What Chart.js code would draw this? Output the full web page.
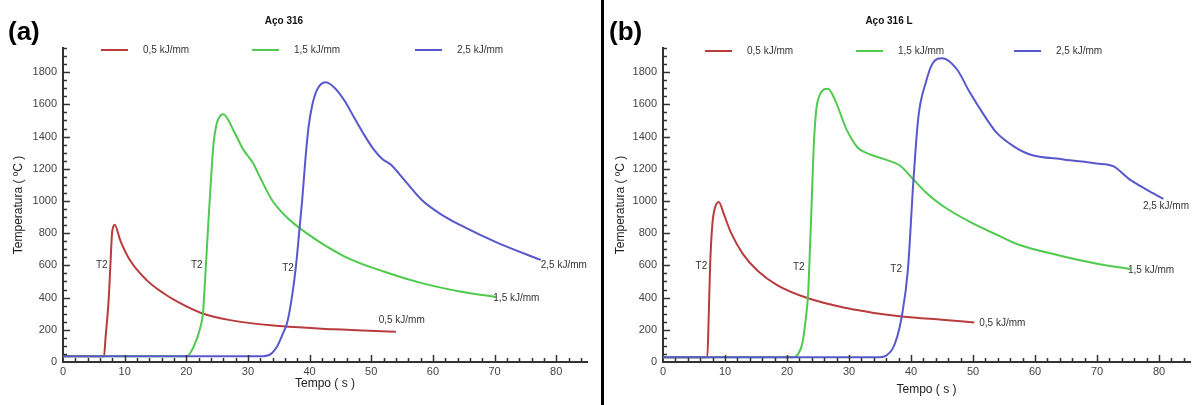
<!DOCTYPE html>
<html>
<head>
<meta charset="utf-8">
<script src="https://cdn.jsdelivr.net/npm/chart.js@4/dist/chart.umd.min.js"></script>
<style>
    body { margin: 0; width: 1195px; height: 405px; position: relative; overflow: hidden; background: #fff; font-family: "Liberation Sans", Arial, sans-serif; }
    canvas { position: absolute; top: 0; }
    #grafico-a { left: 0; }
    #grafico-b { left: 605px; }
    .divisor { position: absolute; left: 601px; top: 0; width: 3px; height: 405px; background: #000; }
    .letra { position: absolute; top: 16px; font: bold 26px "Liberation Sans", Arial, sans-serif; color: #000; }
    .titulo { position: absolute; top: 15px; font: bold 10px "Liberation Sans", Arial, sans-serif; color: #111; transform: translateX(-50%); white-space: nowrap; }
    .legenda { position: absolute; font: 10px "Liberation Sans", Arial, sans-serif; color: #333; white-space: nowrap; }
    .legenda span { display: inline-block; width: 27px; height: 2px; vertical-align: middle; margin-right: 15px; }
</style>
</head>
<body>
<canvas id="grafico-a" width="600" height="405"></canvas>
<canvas id="grafico-b" width="590" height="405"></canvas>
<div class="divisor"></div>
<div class="letra" style="left:8px">(a)</div>
<div class="letra" style="left:609px">(b)</div>
<div class="titulo" style="left:284px">Aço 316</div>
<div class="titulo" style="left:889px">Aço 316 L</div>
<div id="legendas"></div>

<script>
// Energias de soldagem (séries)
const energias = ["0,5 kJ/mm", "1,5 kJ/mm", "2,5 kJ/mm"];
const cores = ["#b83c3e", "#4fca4f", "#5858cc"];

// Aço 316: tempo (s) e temperatura (ºC)
const tempoA05 = [0, 6.65, 6.9, 7.4, 7.7, 7.95, 8.15, 8.38, 9.3, 10.9, 13.6, 16.3, 19.0, 22.5, 27.1, 35.2, 44, 54];
const tempA05  = [35, 35, 150, 383, 612, 797, 840, 853, 754, 630, 507, 427, 365, 303, 260, 223, 203, 188];
const tempoA15 = [0, 20.1, 21.2, 22.3, 22.7, 23.2, 23.6, 24.0, 24.4, 24.9, 25.5, 26.0, 27.7, 29.2, 30.8, 32.0, 33.9, 36.0, 39.5, 45.7, 52.0, 58.2, 64.4, 70.3];
const tempA15  = [35, 35, 95, 218, 303, 612, 880, 1130, 1350, 1476, 1528, 1538, 1435, 1322, 1237, 1144, 1006, 910, 800, 655, 562, 490, 438, 403];
const tempoA25 = [0, 32, 33.5, 34.7, 35.6, 36.4, 37.2, 37.8, 38.3, 38.8, 39.3, 39.8, 40.4, 41.2, 42.6, 44, 45.7, 47.2, 48.8, 50.4, 51.8, 53.2, 54.5, 55.7, 58.2, 61, 64.4, 70.6, 77.5];
const tempA25  = [35, 35, 45, 95, 170, 250, 420, 600, 800, 1006, 1250, 1450, 1590, 1690, 1738, 1705, 1621, 1520, 1414, 1320, 1260, 1225, 1170, 1115, 1006, 925, 851, 738, 634];

// Aço 316 L
const tempoB05 = [0, 7.15, 7.35, 7.6, 7.95, 8.4, 9.0, 9.8, 11.0, 12.9, 15.3, 18.4, 23.4, 29.6, 34, 38.5, 45, 50.2];
const tempB05  = [30, 30, 250, 600, 850, 960, 994, 920, 800, 670, 565, 478, 396, 335, 305, 283, 262, 246];
const tempoB15 = [0, 20.9, 21.8, 22.5, 23.0, 23.4, 23.7, 24.0, 24.3, 24.7, 25.3, 26.6, 27.7, 29.6, 31.4, 32.7, 35.8, 38.2, 40.4, 42.5, 45.2, 49.5, 54.4, 57.4, 63.6, 69.8, 75.4];
const tempB15  = [30, 30, 50, 120, 260, 420, 700, 1010, 1330, 1560, 1660, 1697, 1631, 1445, 1332, 1300, 1258, 1220, 1133, 1050, 967, 870, 780, 728, 665, 612, 577];
const tempoB25 = [0, 35.0, 36.0, 37.0, 37.8, 38.5, 39.5, 40.4, 41.2, 42.4, 43.5, 45.1, 47.4, 49.5, 51.7, 53.8, 56.5, 59.2, 64.6, 69.9, 72.6, 75.3, 78.0, 80.7];
const tempB25  = [30, 30, 40, 80, 160, 280, 573, 1133, 1525, 1737, 1855, 1887, 1818, 1673, 1538, 1424, 1341, 1289, 1258, 1233, 1216, 1133, 1071, 1013];

// Rótulos sobre as curvas
const rotuloTexto = ["T2", "T2", "T2", "0,5 kJ/mm", "1,5 kJ/mm", "2,5 kJ/mm"];
const rotuloAlinh = ["center", "center", "center", "left", "left", "left"];
const rotuloTempoA = [6.3, 21.7, 36.5, 51.2, 69.8, 77.5];
const rotuloTempA  = [600, 600, 581, 259, 396, 600];
const rotuloTempoB = [6.2, 21.9, 37.6, 51.0, 75.0, 77.4];
const rotuloTempB  = [597, 590, 579, 243, 567, 967];

// Escalas
const eixoXMax = 85, eixoXPasso = 10, eixoXMenor = 2;
const eixoYMax = 1950, eixoYPasso = 200, eixoYMenor = 50;

const fonteNum = "'Liberation Sans Narrow', 'Liberation Sans', Arial, sans-serif";
const fonteTexto = "'Liberation Sans', Arial, sans-serif";

function pares(tempos, temps) {
    return tempos.map((t, i) => ({ x: t, y: temps[i] }));
}

// Marcas de escala voltadas para dentro, maiores e menores
const marcasInternas = {
    id: "marcasInternas",
    afterDatasetsDraw(chart) {
        const ctx = chart.ctx;
        const area = chart.chartArea;
        const x = chart.scales.x, y = chart.scales.y;
        ctx.save();
        ctx.strokeStyle = "#333";
        ctx.lineWidth = 1.5;
        ctx.beginPath();
        for (let v = eixoXMenor; v <= eixoXMax; v += eixoXMenor) {
            const px = Math.round(x.getPixelForValue(v)) + 0.5;
            const len = v % eixoXPasso === 0 ? 7 : 4;
            ctx.moveTo(px, area.bottom);
            ctx.lineTo(px, area.bottom - len);
        }
        for (let v = eixoYMenor; v <= eixoYMax; v += eixoYMenor) {
            const py = Math.round(y.getPixelForValue(v)) + 0.5;
            const len = v % eixoYPasso === 0 ? 7 : 4;
            ctx.moveTo(area.left, py);
            ctx.lineTo(area.left + len, py);
        }
        ctx.stroke();
        ctx.restore();
    }
};

// Textos junto às curvas, posicionados em coordenadas de dados
const rotulosCurvas = {
    id: "rotulosCurvas",
    afterDatasetsDraw(chart, args, opts) {
        const ctx = chart.ctx;
        ctx.save();
        ctx.font = "10px " + fonteTexto;
        ctx.fillStyle = "#333";
        ctx.textBaseline = "middle";
        opts.textos.forEach((txt, i) => {
            ctx.textAlign = rotuloAlinh[i];
            ctx.fillText(txt,
                chart.scales.x.getPixelForValue(opts.tempos[i]),
                chart.scales.y.getPixelForValue(opts.temps[i]));
        });
        ctx.restore();
    }
};

function criarGrafico(id, series, rotTempos, rotTemps, larguraY, tituloYPad, tituloXPad, margemDir) {
    const ctx = document.getElementById(id).getContext("2d");
    return new Chart(ctx, {
        type: "line",
        data: {
            datasets: series.map((s, i) => ({
                label: energias[i],
                data: pares(s[0], s[1]),
                borderColor: cores[i],
                borderWidth: 2,
                pointRadius: 0,
                fill: false,
                order: 2 - i, // a curva de 2,5 kJ/mm fica por cima
                cubicInterpolationMode: "monotone"
            }))
        },
        options: {
            responsive: false,
            animation: false,
            layout: { autoPadding: false, padding: { top: 48, right: margemDir, left: 0, bottom: 0 } },
            plugins: {
                legend: { display: false },
                tooltip: { enabled: false },
                rotulosCurvas: { textos: rotuloTexto, tempos: rotTempos, temps: rotTemps }
            },
            scales: {
                x: {
                    type: "linear",
                    min: 0,
                    max: eixoXMax,
                    border: { display: true, color: "#333", width: 2 },
                    grid: { display: false, drawTicks: false },
                    ticks: { stepSize: eixoXPasso, includeBounds: false, padding: 3, maxRotation: 0, color: "#444", font: { family: fonteNum, size: 11 } },
                    title: { display: true, text: "Tempo ( s )", color: "#222", font: { family: fonteTexto, size: 12 }, padding: { top: 0, bottom: tituloXPad } },
                    afterFit(scale) { scale.height = 43; }
                },
                y: {
                    min: 0,
                    max: eixoYMax,
                    border: { display: true, color: "#333", width: 2 },
                    grid: { display: false, drawTicks: false },
                    ticks: {
                        stepSize: eixoYPasso, includeBounds: false, padding: 6, color: "#444",
                        font: { family: fonteNum, size: 11 },
                        callback: v => String(v)
                    },
                    title: { display: true, text: "Temperatura ( ºC )", color: "#222", font: { family: fonteTexto, size: 12 }, padding: { top: tituloYPad, bottom: 0 } },
                    afterFit(scale) { scale.width = larguraY; }
                }
            }
        },
        plugins: [marcasInternas, rotulosCurvas]
    });
}

criarGrafico("grafico-a",
    [[tempoA05, tempA05], [tempoA15, tempA15], [tempoA25, tempA25]],
    rotuloTempoA, rotuloTempA, 63, 11, 14, 13);

criarGrafico("grafico-b",
    [[tempoB05, tempB05], [tempoB15, tempB15], [tempoB25, tempB25]],
    rotuloTempoB, rotuloTempB, 58, 8, 8, 5);

// Legendas no topo de cada painel
const legendaX = [[101, 252, 415], [705, 856, 1014]];
const legendaY = [44, 45];
const caixa = document.getElementById("legendas");
legendaX.forEach((linha, p) => {
    linha.forEach((lx, i) => {
        const el = document.createElement("div");
        el.className = "legenda";
        el.style.left = lx + "px";
        el.style.top = legendaY[p] + "px";
        el.innerHTML = '<span style="background:' + cores[i] + '"></span>' + energias[i];
        caixa.appendChild(el);
    });
});
</script>
</body>
</html>
